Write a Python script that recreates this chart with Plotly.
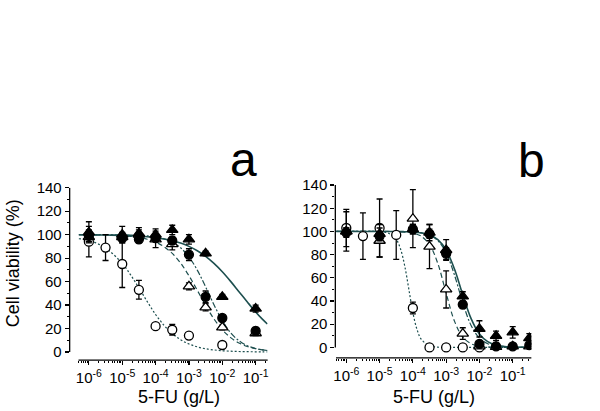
import plotly.graph_objects as go

# ---------------- data: panel a ----------------
A_OC_X = [1e-6, 3.16e-6, 1e-5, 3.16e-5, 1e-4, 3.16e-4, 1e-3, 1e-2]
A_OC_Y = [94, 89, 75, 53, 22, 19, 14, 6]
A_OC_E = [13, 11, 20, 8, 1, 4.5, 1, 1]

A_FT_X = [1e-6, 1e-5, 3.16e-5, 1e-4, 3.16e-4, 1e-3, 3.16e-3, 1e-2, 1e-1]
A_FT_Y = [102, 100, 101, 100, 104, 96, 84, 47, 37]
A_FT_E = [9, 7, 5, 5, 4, 4, 2, 2, 3]

A_FC_X = [1e-6, 1e-5, 3.16e-5, 1e-4, 3.16e-4, 1e-3, 3.16e-3, 1e-2, 1e-1]
A_FC_Y = [99, 97, 96, 97, 95, 83, 47, 29, 18]
A_FC_E = [5, 4, 3, 3, 3, 5, 5, 2, 3]

A_OT_X = [1e-6, 1e-5, 3.16e-5, 1e-4, 3.16e-4, 1e-3, 3.16e-3, 1e-2, 1e-1]
A_OT_Y = [98, 98, 100, 96, 92, 56, 38, 21, 16]
A_OT_E = [4, 4, 4, 7, 5, 3, 3, 2, 2]

A_CURVE_LOGX = [-6.3, -6, -5.5, -5, -4.75, -4.5, -4.25, -4, -3.75, -3.5, -3.25,
                -3, -2.75, -2.5, -2.25, -2, -1.75, -1.5, -1.25, -1, -0.8, -0.65]
A_SOLID = [99.9, 99.8, 99.7, 99.4, 99.1, 98.7, 98.2, 97.4, 96.3, 94.8, 92.8,
           90.0, 86.3, 81.5, 75.5, 68.4, 60.2, 51.4, 42.6, 34.1, 28.0, 23.9]
A_DASH = [99.9, 99.9, 99.7, 99.2, 98.6, 97.7, 96.1, 93.7, 89.8, 84.0, 75.8,
          65.0, 52.6, 39.8, 28.2, 19.0, 12.3, 7.7, 4.7, 2.9, 1.9, 1.4]
A_DASHDOT = [100, 100, 99.95, 99.8, 99.7, 99.4, 98.9, 98.0, 96.5, 93.6, 88.8,
             81.0, 69.8, 55.5, 40.3, 26.7, 16.4, 9.6, 5.4, 3.0, 1.9, 1.3]
A_DOT = [96.5, 95.2, 88.6, 75.5, 65.8, 54.6, 43.0, 32.0, 22.9, 15.7, 10.5,
         6.9, 4.4, 2.8, 1.8, 1.1, 0.7, 0.45, 0.3, 0.2, 0.12, 0.1]

# ---------------- data: panel b ----------------
B_OC_X = [1e-6, 3.16e-6, 1e-5, 3.16e-5, 1e-4, 3.16e-4, 1e-3, 3.16e-3, 1e-2]
B_OC_Y = [103, 96, 103, 97, 34, 0, 0, 0, 0]
B_OC_E = [16, 20, 25, 21, 5, 1, 1, 1, 1]

B_FT_X = [1e-6, 1e-5, 1e-4, 3.16e-4, 1e-3, 3.16e-3, 1e-2, 3.16e-2, 1e-1, 3.16e-1]
B_FT_Y = [100, 98, 102, 99, 84, 44, 16, 10, 13, 8]
B_FT_E = [17, 5, 4, 7, 9, 4, 7, 4, 5, 4]

B_FC_X = [1e-6, 1e-5, 1e-4, 3.16e-4, 1e-3, 3.16e-3, 1e-2, 3.16e-2, 1e-1, 3.16e-1]
B_FC_Y = [99, 96, 102, 98, 81, 37, 3, 1, 1, 2]
B_FC_E = [4, 4, 4, 4, 5, 3, 2, 1, 1, 1]

B_OT_X = [1e-6, 1e-5, 1e-4, 3.16e-4, 1e-3, 3.16e-3, 1e-2, 3.16e-2, 1e-1, 3.16e-1]
B_OT_Y = [100, 92, 111, 87, 50, 12, 1, 0.5, 1, 1]
B_OT_E = [3, 14, 25, 19, 16, 5, 1, 1, 1, 1]

B_CURVE_LOGX = [-6.3, -6, -5.5, -5, -4.75, -4.5, -4.375, -4.25, -4.125, -4, -3.875,
                -3.75, -3.5, -3.25, -3, -2.75, -2.5, -2.25, -2, -1.75, -1.5, -1.25,
                -1, -0.75, -0.45]
B_SOLID = [100, 100, 100, 100, 100, 99.9, 99.9, 99.8, 99.7, 99.5, 99.2,
           98.8, 97.1, 92.9, 84.0, 67.6, 45.4, 24.9, 11.6, 5.0, 2.0, 0.8,
           0.3, 0.13, 0.04]
B_DASH = [100, 100, 100, 100, 99.95, 99.8, 99.7, 99.5, 99.2, 98.6, 97.6,
          95.9, 88.7, 72.4, 46.7, 22.7, 8.9, 3.2, 1.1, 0.4, 0.12, 0.04,
          0, 0, 0]
B_DASHDOT = [100, 100, 100, 100, 100, 99.9, 99.9, 99.8, 99.7, 99.6, 99.3,
             98.8, 96.9, 92.2, 81.6, 62.5, 38.5, 19.0, 8.1, 3.2, 1.2, 0.5,
             0.2, 0.07, 0.02]
B_DOT = [100, 100, 100, 99.8, 98.7, 93.0, 85.3, 71.0, 50.9, 30.0, 15.5,
         7.2, 1.4, 0.25, 0.05, 0, 0, 0, 0, 0, 0, 0, 0, 0, 0]

X_TICK_VALS = [1e-6, 1e-5, 1e-4, 1e-3, 1e-2, 1e-1]
X_TICK_TEXT = ["10<sup>-6</sup>", "10<sup>-5</sup>", "10<sup>-4</sup>",
               "10<sup>-3</sup>", "10<sup>-2</sup>", "10<sup>-1</sup>"]
Y_TICK_VALS = [0, 20, 40, 60, 80, 100, 120, 140]
Y_MINOR_VALS = [10, 30, 50, 70, 90, 110, 130]

# ---------------- styling ----------------
W, H = 600, 411
FONT = "Arial, Liberation Sans, sans-serif"
CURVE_COLOR = "#1d4f4f"
MARK_COLOR = "black"

fig = go.Figure()


def add_curves(logx, solid, dash, dashdot, dot, xa, ya):
    xs = [10 ** v for v in logx]
    styles = [(dot, "2px,2px", 1.2), (dash, "5px,3px", 1.2),
              (dashdot, "6px,2px,2px,2px", 1.2), (solid, "solid", 1.6)]
    for ys, d, w in styles:
        fig.add_trace(go.Scatter(
            x=xs, y=ys, mode="lines", xaxis=xa, yaxis=ya,
            line=dict(color=CURVE_COLOR, width=w, dash=d, shape="spline",
                      smoothing=1.0),
            hoverinfo="skip", showlegend=False))


def add_points(x, y, e, symbol, filled, xa, ya, size):
    fig.add_trace(go.Scatter(
        x=x, y=y, mode="markers", xaxis=xa, yaxis=ya,
        marker=dict(symbol=symbol, size=size,
                    color=MARK_COLOR if filled else "white",
                    line=dict(color=MARK_COLOR, width=1.3)),
        error_y=dict(type="data", array=e, visible=True, color=MARK_COLOR,
                     thickness=1.3, width=3),
        showlegend=False))


add_curves(A_CURVE_LOGX, A_SOLID, A_DASH, A_DASHDOT, A_DOT, "x", "y")
add_points(A_OC_X, A_OC_Y, A_OC_E, "circle", False, "x", "y", 9)
add_points(A_OT_X, A_OT_Y, A_OT_E, "triangle-up", False, "x", "y", 10)
add_points(A_FC_X, A_FC_Y, A_FC_E, "circle", True, "x", "y", 9)
add_points(A_FT_X, A_FT_Y, A_FT_E, "triangle-up", True, "x", "y", 10)

add_curves(B_CURVE_LOGX, B_SOLID, B_DASH, B_DASHDOT, B_DOT, "x2", "y2")
add_points(B_OC_X, B_OC_Y, B_OC_E, "circle", False, "x2", "y2", 9)
add_points(B_OT_X, B_OT_Y, B_OT_E, "triangle-up", False, "x2", "y2", 10)
add_points(B_FC_X, B_FC_Y, B_FC_E, "circle", True, "x2", "y2", 9)
add_points(B_FT_X, B_FT_Y, B_FT_E, "triangle-up", True, "x2", "y2", 10)

# minor x ticks (2..9 per decade)
minor_x = [k * 10.0 ** p for p in range(-7, 0) for k in range(2, 10)]
A_XR = [-6.576, -0.64]
B_XR = [-6.33, -0.44]
minor_a = [v for v in minor_x if v >= 5e-7 and v <= 10 ** A_XR[1]]
minor_b = [v for v in minor_x if v >= 10 ** B_XR[0] and v <= 10 ** B_XR[1]]


def xaxis_cfg(domain, rng, minor_vals):
    return dict(domain=domain, type="log", range=rng, showline=False,
                showgrid=False, zeroline=False, ticks="outside", ticklen=4,
                tickwidth=1.2, tickcolor="black", tickmode="array",
                tickvals=X_TICK_VALS, ticktext=X_TICK_TEXT,
                tickfont=dict(family=FONT, size=15, color="black"),
                minor=dict(tickmode="array", tickvals=minor_vals, ticks="outside",
                           ticklen=2, tickwidth=1, tickcolor="black"))


def yaxis_cfg(domain, rng, anchor):
    return dict(domain=domain, range=rng, anchor=anchor, showline=False,
                showgrid=False, zeroline=False, ticks="outside", ticklen=4,
                tickwidth=1.2, tickcolor="black", tickmode="array",
                tickvals=Y_TICK_VALS,
                tickfont=dict(family=FONT, size=15, color="black"),
                minor=dict(tickmode="array", tickvals=Y_MINOR_VALS, ticks="outside",
                           ticklen=2, tickwidth=1, tickcolor="black"))


fig.update_layout(
    width=W, height=H, autosize=False,
    margin=dict(l=0, r=0, t=0, b=0),
    paper_bgcolor="white", plot_bgcolor="white",
    showlegend=False, hovermode=False,
    xaxis=xaxis_cfg([68 / W, 267 / W], A_XR, minor_a) | dict(anchor="y"),
    yaxis=yaxis_cfg([1 - 359 / H, 1 - 182.7 / H], [-6.9, 140], "x"),
    xaxis2=xaxis_cfg([335 / W, 532 / W], B_XR, minor_b) | dict(anchor="y2"),
    yaxis2=yaxis_cfg([1 - 356.7 / H, 1 - 180 / H], [-9, 140], "x2"),
)

# axis lines (detached style)
a_x0 = (-6.31 - A_XR[0]) / (A_XR[1] - A_XR[0])
b_x0 = (-6.31 - B_XR[0]) / (B_XR[1] - B_XR[0])
line_style = dict(color="black", width=1.3)
fig.add_shape(type="line", xref="x domain", yref="y", x0=0, x1=0, y0=0, y1=140, line=line_style)
fig.add_shape(type="line", xref="x domain", yref="y domain", x0=a_x0, x1=1, y0=0, y1=0, line=line_style)
fig.add_shape(type="line", xref="x2 domain", yref="y2", x0=0, x1=0, y0=0, y1=140, line=line_style)
fig.add_shape(type="line", xref="x2 domain", yref="y2 domain", x0=max(b_x0, 0), x1=1, y0=0, y1=0, line=line_style)

# titles and panel letters
txt = dict(family=FONT, color="black")
fig.add_annotation(text="Cell viability (%)", textangle=-90, xref="paper", yref="paper",
                   x=11 / W, y=1 - 260 / H, showarrow=False, font=txt | dict(size=18),
                   xanchor="center", yanchor="middle")
fig.add_annotation(text="5-FU (g/L)", xref="paper", yref="paper", x=177.5 / W,
                   y=1 - 396.7 / H, showarrow=False, font=txt | dict(size=18),
                   xanchor="center", yanchor="middle")
fig.add_annotation(text="5-FU (g/L)", xref="paper", yref="paper", x=434 / W,
                   y=1 - 396.7 / H, showarrow=False, font=txt | dict(size=18),
                   xanchor="center", yanchor="middle")
fig.add_annotation(text="a", xref="paper", yref="paper", x=242.5 / W, y=1 - 154 / H,
                   showarrow=False, font=txt | dict(size=48), xanchor="center", yanchor="middle")
fig.add_annotation(text="b", xref="paper", yref="paper", x=531.7 / W, y=1 - 155 / H,
                   showarrow=False, font=txt | dict(size=48), xanchor="center", yanchor="middle")

fig.write_html("out.html", config={"displayModeBar": False, "staticPlot": True},
               post_script="document.body.style.margin='0px';")
